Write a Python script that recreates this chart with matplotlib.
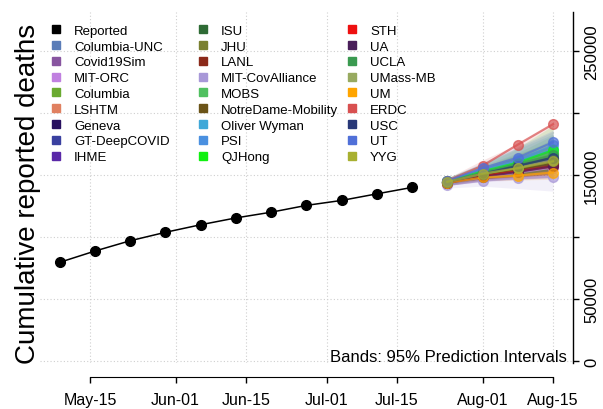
import numpy as np
import matplotlib
matplotlib.use('Agg')
import matplotlib.pyplot as plt
import matplotlib.dates as mdates
from matplotlib.lines import Line2D
from matplotlib.legend import Legend
from datetime import datetime

plt.rcParams['font.family'] = ['Liberation Sans', 'DejaVu Sans']

# observed weekly cumulative deaths
reported_dates = [datetime(2020, 5, 9), datetime(2020, 5, 16), datetime(2020, 5, 23),
                  datetime(2020, 5, 30), datetime(2020, 6, 6), datetime(2020, 6, 13),
                  datetime(2020, 6, 20), datetime(2020, 6, 27), datetime(2020, 7, 4),
                  datetime(2020, 7, 11), datetime(2020, 7, 18)]
reported = [79600, 88700, 97000, 103800, 109900, 115400, 120000, 125500, 129500, 134800, 140000]

target_dates = [datetime(2020, 7, 25), datetime(2020, 8, 1), datetime(2020, 8, 8), datetime(2020, 8, 15)]

models = ['Columbia-UNC', 'Covid19Sim', 'MIT-ORC', 'Columbia', 'LSHTM', 'Geneva',
          'GT-DeepCOVID', 'IHME', 'ISU', 'JHU', 'LANL', 'MIT-CovAlliance', 'MOBS',
          'NotreDame-Mobility', 'Oliver Wyman', 'PSI', 'QJHong', 'STH', 'UA', 'UCLA',
          'UMass-MB', 'UM', 'ERDC', 'USC', 'UT', 'YYG']
colors = ['#5b7db8', '#8855a0', '#c080e0', '#6aaa30', '#e08060', '#281060',
          '#3a40a0', '#5a28a8', '#2e6b35', '#7a8030', '#8b2a1a', '#a898d8', '#50c060',
          '#6b5418', '#40a8d8', '#4a90e0', '#10f010', '#ee1010', '#4a1f5a', '#3a9a50',
          '#98aa60', '#ffa500', '#d85050', '#283878', '#5070d8', '#a8b030']

# point forecasts (thousands), one list per target week, same order as models
point_jul25 = [144.5, 143.8, 143.2, 144.2, 144.0, 144.3, 144.1, 144.0, 144.2, 144.0, 144.3, 142.0, 144.6,
               143.6, 145.0, 145.2, 144.8, 143.9, 143.5, 144.6, 144.3, 143.7, 145.5, 144.4, 145.3, 144.5]
point_aug01 = [151.0, 149.0, 148.0, 152.0, 150.0, 150.5, 150.5, 150.0, 151.5, 150.0, 149.5, 145.5, 152.5,
               149.5, 153.0, 154.0, 153.0, 149.0, 148.5, 152.0, 151.0, 148.0, 157.5, 151.0, 155.5, 151.0]
point_aug08 = [157.0, 154.0, 152.0, 158.0, 155.5, 155.0, 156.0, 156.0, 157.0, 155.0, 154.0, 147.5, 159.0,
               154.5, 161.0, 162.0, 160.0, 153.0, 152.5, 159.0, 156.0, 149.5, 174.5, 157.5, 164.0, 155.5]
point_aug15 = [163.0, 159.0, 156.0, 167.0, 161.0, 160.0, 162.0, 162.0, 164.0, 160.0, 158.0, 148.5, 168.0,
               159.0, 171.0, 174.0, 170.0, 157.0, 157.0, 166.0, 162.0, 152.0, 191.0, 164.0, 176.5, 161.0]

# 95% prediction interval bounds (thousands)
lower_jul25 = [142.5, 142.0, 141.5, 142.0, 142.0, 142.5, 142.0, 142.5, 142.5, 142.0, 142.5, 139.5, 142.5,
               141.5, 142.5, 143.0, 142.0, 142.0, 141.5, 142.5, 142.5, 142.0, 143.5, 142.5, 143.5, 142.5]
upper_jul25 = [146.5, 145.5, 145.0, 146.5, 146.0, 146.0, 146.0, 145.5, 146.0, 146.0, 146.0, 144.5, 147.0,
               145.5, 147.5, 147.5, 148.0, 146.0, 145.5, 146.5, 146.0, 145.5, 147.5, 146.5, 147.5, 146.5]
lower_aug01 = [147.0, 145.5, 144.5, 147.5, 146.0, 147.0, 146.5, 147.0, 147.5, 146.5, 146.5, 141.0, 148.0,
               146.0, 148.0, 149.0, 147.5, 145.5, 145.0, 148.0, 147.5, 145.5, 152.0, 147.5, 150.5, 148.0]
upper_aug01 = [155.0, 152.5, 151.5, 156.5, 154.0, 154.0, 154.5, 153.0, 155.5, 154.0, 153.0, 150.0, 157.5,
               153.0, 158.5, 159.5, 159.0, 152.5, 152.0, 156.5, 154.5, 150.5, 162.0, 155.0, 160.0, 154.0]
lower_aug08 = [150.5, 148.0, 146.0, 150.5, 148.5, 148.5, 149.0, 150.0, 150.5, 148.5, 148.0, 139.0, 151.0,
               148.0, 151.0, 153.0, 150.0, 147.0, 146.5, 151.5, 150.0, 146.0, 163.0, 150.5, 155.0, 150.0]
upper_aug08 = [163.5, 160.0, 158.0, 166.0, 162.5, 161.5, 163.0, 162.0, 164.0, 162.0, 160.0, 156.0, 168.0,
               161.0, 171.0, 172.0, 172.0, 159.0, 158.5, 167.0, 162.0, 153.0, 175.0, 164.5, 173.0, 161.0]
lower_aug15 = [154.0, 151.0, 147.0, 155.0, 151.5, 151.0, 152.5, 153.0, 154.0, 151.0, 150.0, 137.0, 155.0,
               150.5, 155.0, 157.0, 154.0, 148.5, 148.0, 155.0, 153.0, 146.5, 170.0, 154.0, 160.0, 153.0]
upper_aug15 = [172.0, 167.5, 165.0, 179.0, 170.5, 169.0, 171.5, 171.0, 174.0, 169.0, 166.0, 160.0, 182.0,
               168.0, 183.0, 185.0, 190.0, 165.5, 166.0, 177.0, 171.0, 157.5, 192.0, 174.0, 186.0, 169.0]

tick_dates = [datetime(2020, 5, 15), datetime(2020, 6, 1), datetime(2020, 6, 15), datetime(2020, 7, 1),
              datetime(2020, 7, 15), datetime(2020, 8, 1), datetime(2020, 8, 15)]
y_ticks = [0, 50000, 100000, 150000, 200000, 250000]
y_labels = ['0', '50000', '', '150000', '', '250000']

points = np.array([point_jul25, point_aug01, point_aug08, point_aug15]).T * 1000
lowers = np.array([lower_jul25, lower_aug01, lower_aug08, lower_aug15]).T * 1000
uppers = np.array([upper_jul25, upper_aug01, upper_aug08, upper_aug15]).T * 1000

fig = plt.figure(figsize=(6.03, 4.10), dpi=100)
ax = fig.add_axes([40 / 603, 1 - 364 / 410, 533 / 603, 351 / 410])

for d in tick_dates:
    ax.axvline(d, color='#cfcfcf', lw=0.8, ls=(0, (1, 2)), zorder=0)
for v in y_ticks:
    ax.axhline(v, color='#cfcfcf', lw=0.8, ls=(0, (1, 2)), zorder=0)

for i in range(len(models)):
    ax.fill_between(target_dates, lowers[i], uppers[i], color=colors[i], alpha=0.14, lw=0, zorder=1)
for i in range(len(models)):
    ax.plot(target_dates, points[i], color=colors[i], lw=1.6, marker='o', ms=7,
            alpha=0.7, zorder=2)

ax.plot(reported_dates, reported, color='black', lw=1.1, marker='o', ms=7, zorder=3)

ax.set_xlim(mdates.date2num(datetime(2020, 5, 15)) - 9.93, mdates.date2num(datetime(2020, 5, 15)) + 95.97)
ax.set_ylim(-1600, 281450)

ax.set_xticks(tick_dates)
ax.xaxis.set_major_formatter(mdates.DateFormatter('%b-%d'))
ax.tick_params(axis='x', labelsize=11.5, length=4, width=1, pad=7)

ax.yaxis.tick_right()
ax.set_yticks(y_ticks)
ax.set_yticklabels(y_labels, rotation=90, va='center')
ax.tick_params(axis='y', labelsize=12, length=4, width=1, pad=4)

ax.spines['top'].set_visible(False)
ax.spines['left'].set_visible(False)
ax.spines['right'].set_linewidth(1)
ax.spines['bottom'].set_position(('outward', 10))
ax.spines['bottom'].set_bounds(mdates.date2num(tick_dates[0]), mdates.date2num(tick_dates[-1]))

fig.text(28 / 603, 1 - 193.5 / 410, 'Cumulative reported deaths', rotation=90,
         ha='center', va='center', fontsize=20)

ax.text((567 - 40) / 533, 2 / 351, 'Bands: 95% Prediction Intervals', transform=ax.transAxes,
        ha='right', va='baseline', fontsize=12)

# legend in three columns of nine
names = ['Reported'] + models
cols = ['black'] + colors
col_x = [49, 196, 345]
for c in range(3):
    handles = [Line2D([], [], ls='none', marker='s', ms=5.5, color=cols[k]) for k in range(c * 9, c * 9 + 9)]
    leg = Legend(ax, handles, names[c * 9:c * 9 + 9], loc='upper left',
                 bbox_to_anchor=(col_x[c] / 603, 1 - 25.5 / 410), bbox_transform=fig.transFigure,
                 frameon=False, fontsize=9.5, handlelength=1.0, handletextpad=0.9,
                 borderpad=0, borderaxespad=0, labelspacing=0.27)
    ax.add_artist(leg)

plt.savefig('out.png', dpi=100)
